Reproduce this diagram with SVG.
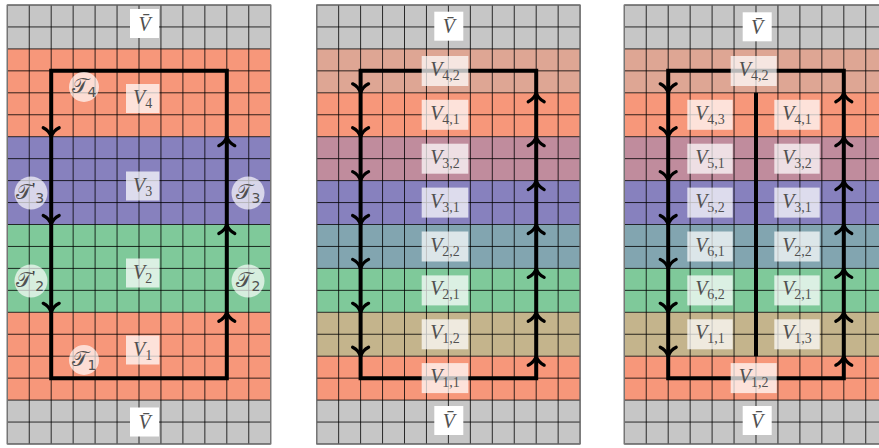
<svg xmlns="http://www.w3.org/2000/svg" xmlns:xlink="http://www.w3.org/1999/xlink" width="879" height="448" viewBox="0 0 879 448">
<style>
.g{fill:#c6c6c6}.s{fill:#f7977a}.p{fill:#8781be}.n{fill:#7fc99a}
.ms{fill:#dea694}.mv{fill:#c08c9d}.tl{fill:#82a5b0}.tn{fill:#c4b48c}
.grid{fill:none;stroke:#000;stroke-width:0.8}
.border{fill:none;stroke:#7a7a7a;stroke-width:1.2}
.loop{fill:none;stroke:#000;stroke-width:4;stroke-linejoin:miter}
.ah{fill:none;stroke:#000;stroke-width:3.2;stroke-linecap:round;stroke-linejoin:round}
.box{fill:#fff;fill-opacity:0.72}
.wbox{fill:#fff}
.circ{fill:#fff;fill-opacity:0.68}
.lab{font-family:"Liberation Serif","DejaVu Serif",serif;font-style:italic;font-size:20px;fill:#505050;text-anchor:middle}
.sub{font-style:normal;font-size:14px}
.tl2{font-family:"DejaVu Sans","Noto Sans","Liberation Serif",serif;font-size:21px;fill:#505050;text-anchor:middle}
.pr{font-family:"Liberation Serif","DejaVu Serif",serif;font-size:18px;fill:#404040}
</style>
<defs>
<path id="grid" class="grid" d="M0 0V439M21.95 0V439M43.9 0V439M65.85 0V439M87.8 0V439M109.75 0V439M131.7 0V439M153.65 0V439M175.6 0V439M197.55 0V439M219.5 0V439M241.45 0V439M263.4 0V439M0 0H263.4M0 21.95H263.4M0 43.9H263.4M0 65.85H263.4M0 87.8H263.4M0 109.75H263.4M0 131.7H263.4M0 153.65H263.4M0 175.6H263.4M0 197.55H263.4M0 219.5H263.4M0 241.45H263.4M0 263.4H263.4M0 285.35H263.4M0 307.3H263.4M0 329.25H263.4M0 351.2H263.4M0 373.15H263.4M0 395.1H263.4M0 417.05H263.4M0 439H263.4"/>
<g id="bands2">
<rect class="g" x="0" y="0" width="263.4" height="43.9"/>
<rect class="ms" x="0" y="43.9" width="263.4" height="43.9"/>
<rect class="s" x="0" y="87.8" width="263.4" height="43.9"/>
<rect class="mv" x="0" y="131.7" width="263.4" height="43.9"/>
<rect class="p" x="0" y="175.6" width="263.4" height="43.9"/>
<rect class="tl" x="0" y="219.5" width="263.4" height="43.9"/>
<rect class="n" x="0" y="263.4" width="263.4" height="43.9"/>
<rect class="tn" x="0" y="307.3" width="263.4" height="43.9"/>
<rect class="s" x="0" y="351.2" width="263.4" height="43.9"/>
<rect class="g" x="0" y="395.1" width="263.4" height="43.9"/>
</g>
<path id="ad" class="ah" d="M-8 -9Q-2 -6 0 0Q2 -6 8 -9"/>
<path id="au" class="ah" d="M-8 9Q-2 6 0 0Q2 6 8 9"/>
</defs>

<g id="panel1">
<g transform="translate(7.3,5)">
<rect class="g" x="0" y="0" width="263.4" height="43.9"/>
<rect class="s" x="0" y="43.9" width="263.4" height="87.8"/>
<rect class="p" x="0" y="131.7" width="263.4" height="87.8"/>
<rect class="n" x="0" y="219.5" width="263.4" height="87.8"/>
<rect class="s" x="0" y="307.3" width="263.4" height="87.8"/>
<rect class="g" x="0" y="395.1" width="263.4" height="43.9"/>
<use xlink:href="#grid"/>
<rect class="border" x="0" y="0" width="263.4" height="439"/>
</g>
</g>
<g id="panel2">
<g transform="translate(316.7,5)">
<use xlink:href="#bands2"/>
<use xlink:href="#grid"/>
<rect class="border" x="0" y="0" width="263.4" height="439"/>
</g>
</g>
<g id="panel3">
<g transform="translate(624.3,5)">
<use xlink:href="#bands2"/>
<use xlink:href="#grid"/>
<rect class="border" x="0" y="0" width="263.4" height="439"/>
</g>
</g>

<g id="connectors">
<path class="loop" d="M51.2 70.85H226.8V378.15H51.2Z"/>
<use xlink:href="#ad" x="51.2" y="136.7"/>
<use xlink:href="#ad" x="51.2" y="224.5"/>
<use xlink:href="#ad" x="51.2" y="312.3"/>
<use xlink:href="#au" x="226.8" y="136.7"/>
<use xlink:href="#au" x="226.8" y="224.5"/>
<use xlink:href="#au" x="226.8" y="312.3"/>

<path class="loop" d="M360.6 70.85H536.2V378.15H360.6Z"/>
<use xlink:href="#ad" x="360.6" y="92.8"/>
<use xlink:href="#ad" x="360.6" y="136.7"/>
<use xlink:href="#ad" x="360.6" y="180.6"/>
<use xlink:href="#ad" x="360.6" y="224.5"/>
<use xlink:href="#ad" x="360.6" y="268.4"/>
<use xlink:href="#ad" x="360.6" y="312.3"/>
<use xlink:href="#ad" x="360.6" y="356.2"/>
<use xlink:href="#au" x="536.2" y="92.8"/>
<use xlink:href="#au" x="536.2" y="136.7"/>
<use xlink:href="#au" x="536.2" y="180.6"/>
<use xlink:href="#au" x="536.2" y="224.5"/>
<use xlink:href="#au" x="536.2" y="268.4"/>
<use xlink:href="#au" x="536.2" y="312.3"/>
<use xlink:href="#au" x="536.2" y="356.2"/>

<path class="loop" d="M668.2 70.85H843.8V378.15H668.2Z"/>
<path class="loop" d="M756 92.8V356.2"/>
<use xlink:href="#ad" x="668.2" y="92.8"/>
<use xlink:href="#ad" x="668.2" y="136.7"/>
<use xlink:href="#ad" x="668.2" y="180.6"/>
<use xlink:href="#ad" x="668.2" y="224.5"/>
<use xlink:href="#ad" x="668.2" y="268.4"/>
<use xlink:href="#ad" x="668.2" y="312.3"/>
<use xlink:href="#ad" x="668.2" y="356.2"/>
<use xlink:href="#au" x="843.8" y="92.8"/>
<use xlink:href="#au" x="843.8" y="136.7"/>
<use xlink:href="#au" x="843.8" y="180.6"/>
<use xlink:href="#au" x="843.8" y="224.5"/>
<use xlink:href="#au" x="843.8" y="268.4"/>
<use xlink:href="#au" x="843.8" y="312.3"/>
<use xlink:href="#au" x="843.8" y="356.2"/>
</g>

<!-- Panel 1 labels -->
<g id="p1-vbar-top"><rect class="wbox" x="130" y="9" width="29" height="29"/><text class="lab" x="144.5" y="30.5">V̄</text></g>
<g id="p1-V4"><rect class="box" x="126" y="84" width="33.4" height="29"/><text class="lab" x="142.7" y="104">V<tspan class="sub" dy="4">4</tspan></text></g>
<g id="p1-V3"><rect class="box" x="126" y="171.5" width="33.4" height="29"/><text class="lab" x="142.7" y="191.5">V<tspan class="sub" dy="4">3</tspan></text></g>
<g id="p1-V2"><rect class="box" x="126" y="258.5" width="33.4" height="29"/><text class="lab" x="142.7" y="278.5">V<tspan class="sub" dy="4">2</tspan></text></g>
<g id="p1-V1"><rect class="box" x="126" y="335.5" width="33.4" height="29"/><text class="lab" x="142.7" y="355.5">V<tspan class="sub" dy="4">1</tspan></text></g>
<g id="p1-vbar-bot"><rect class="wbox" x="130" y="407.5" width="29" height="29"/><text class="lab" x="144.5" y="429">V̄</text></g>
<g id="p1-T4"><circle class="circ" cx="84" cy="87" r="15"/><text class="tl2" x="84" y="93">𝒯<tspan class="sub" dy="4">4</tspan></text></g>
<g id="p1-T3p"><circle class="circ" cx="31" cy="193" r="16.5"/><text class="tl2" x="30" y="199">𝒯<tspan class="pr" dy="-3">'</tspan><tspan class="sub" dy="7">3</tspan></text></g>
<g id="p1-T3"><circle class="circ" cx="248" cy="193" r="16.5"/><text class="tl2" x="248" y="199">𝒯<tspan class="sub" dy="4">3</tspan></text></g>
<g id="p1-T2p"><circle class="circ" cx="31" cy="281" r="16.5"/><text class="tl2" x="30" y="287">𝒯<tspan class="pr" dy="-3">'</tspan><tspan class="sub" dy="7">2</tspan></text></g>
<g id="p1-T2"><circle class="circ" cx="248" cy="281" r="16.5"/><text class="tl2" x="248" y="287">𝒯<tspan class="sub" dy="4">2</tspan></text></g>
<g id="p1-T1"><circle class="circ" cx="84" cy="360" r="15"/><text class="tl2" x="84" y="366">𝒯<tspan class="sub" dy="4">1</tspan></text></g>

<!-- Panel 2 labels -->
<g id="p2-vbar-top"><rect class="wbox" x="434.3" y="11.7" width="29" height="29"/><text class="lab" x="448.8" y="33.2">V̄</text></g>
<g id="p2-V42"><rect class="box" x="421.7" y="56" width="46.6" height="30"/><text class="lab" x="445" y="76">V<tspan class="sub" dy="4">4,2</tspan></text></g>
<g id="p2-V41"><rect class="box" x="421.7" y="99.8" width="46.6" height="30"/><text class="lab" x="445" y="119.8">V<tspan class="sub" dy="4">4,1</tspan></text></g>
<g id="p2-V32"><rect class="box" x="421.7" y="143.7" width="46.6" height="30"/><text class="lab" x="445" y="163.7">V<tspan class="sub" dy="4">3,2</tspan></text></g>
<g id="p2-V31"><rect class="box" x="421.7" y="187.6" width="46.6" height="30"/><text class="lab" x="445" y="207.6">V<tspan class="sub" dy="4">3,1</tspan></text></g>
<g id="p2-V22"><rect class="box" x="421.7" y="231.5" width="46.6" height="30"/><text class="lab" x="445" y="251.5">V<tspan class="sub" dy="4">2,2</tspan></text></g>
<g id="p2-V21"><rect class="box" x="421.7" y="275.4" width="46.6" height="30"/><text class="lab" x="445" y="295.4">V<tspan class="sub" dy="4">2,1</tspan></text></g>
<g id="p2-V12"><rect class="box" x="421.7" y="319.3" width="46.6" height="30"/><text class="lab" x="445" y="339.3">V<tspan class="sub" dy="4">1,2</tspan></text></g>
<g id="p2-V11"><rect class="box" x="421.7" y="363.1" width="46.6" height="30"/><text class="lab" x="445" y="383.1">V<tspan class="sub" dy="4">1,1</tspan></text></g>
<g id="p2-vbar-bot"><rect class="wbox" x="434.3" y="406" width="29" height="29"/><text class="lab" x="448.8" y="427.5">V̄</text></g>

<!-- Panel 3 labels -->
<g id="p3-vbar-top"><rect class="wbox" x="742.7" y="12.3" width="29" height="29"/><text class="lab" x="757.2" y="33.8">V̄</text></g>
<g id="p3-V42"><rect class="box" x="730.7" y="56" width="46" height="30"/><text class="lab" x="753.7" y="76">V<tspan class="sub" dy="4">4,2</tspan></text></g>
<g id="p3-V43"><rect class="box" x="687.3" y="99.8" width="45.4" height="30"/><text class="lab" x="710" y="119.8">V<tspan class="sub" dy="4">4,3</tspan></text></g>
<g id="p3-V41"><rect class="box" x="774.3" y="99.8" width="45.4" height="30"/><text class="lab" x="797" y="119.8">V<tspan class="sub" dy="4">4,1</tspan></text></g>
<g id="p3-V51"><rect class="box" x="687.3" y="143.7" width="45.4" height="30"/><text class="lab" x="710" y="163.7">V<tspan class="sub" dy="4">5,1</tspan></text></g>
<g id="p3-V32"><rect class="box" x="774.3" y="143.7" width="45.4" height="30"/><text class="lab" x="797" y="163.7">V<tspan class="sub" dy="4">3,2</tspan></text></g>
<g id="p3-V52"><rect class="box" x="687.3" y="187.6" width="45.4" height="30"/><text class="lab" x="710" y="207.6">V<tspan class="sub" dy="4">5,2</tspan></text></g>
<g id="p3-V31"><rect class="box" x="774.3" y="187.6" width="45.4" height="30"/><text class="lab" x="797" y="207.6">V<tspan class="sub" dy="4">3,1</tspan></text></g>
<g id="p3-V61"><rect class="box" x="687.3" y="231.5" width="45.4" height="30"/><text class="lab" x="710" y="251.5">V<tspan class="sub" dy="4">6,1</tspan></text></g>
<g id="p3-V22"><rect class="box" x="774.3" y="231.5" width="45.4" height="30"/><text class="lab" x="797" y="251.5">V<tspan class="sub" dy="4">2,2</tspan></text></g>
<g id="p3-V62"><rect class="box" x="687.3" y="275.4" width="45.4" height="30"/><text class="lab" x="710" y="295.4">V<tspan class="sub" dy="4">6,2</tspan></text></g>
<g id="p3-V21"><rect class="box" x="774.3" y="275.4" width="45.4" height="30"/><text class="lab" x="797" y="295.4">V<tspan class="sub" dy="4">2,1</tspan></text></g>
<g id="p3-V11"><rect class="box" x="687.3" y="319.3" width="45.4" height="30"/><text class="lab" x="710" y="339.3">V<tspan class="sub" dy="4">1,1</tspan></text></g>
<g id="p3-V13"><rect class="box" x="774.3" y="319.3" width="45.4" height="30"/><text class="lab" x="797" y="339.3">V<tspan class="sub" dy="4">1,3</tspan></text></g>
<g id="p3-V12"><rect class="box" x="730.7" y="363.1" width="46" height="30"/><text class="lab" x="753.7" y="383.1">V<tspan class="sub" dy="4">1,2</tspan></text></g>
<g id="p3-vbar-bot"><rect class="wbox" x="742.7" y="406" width="29" height="29"/><text class="lab" x="757.2" y="427.5">V̄</text></g>
</svg>
